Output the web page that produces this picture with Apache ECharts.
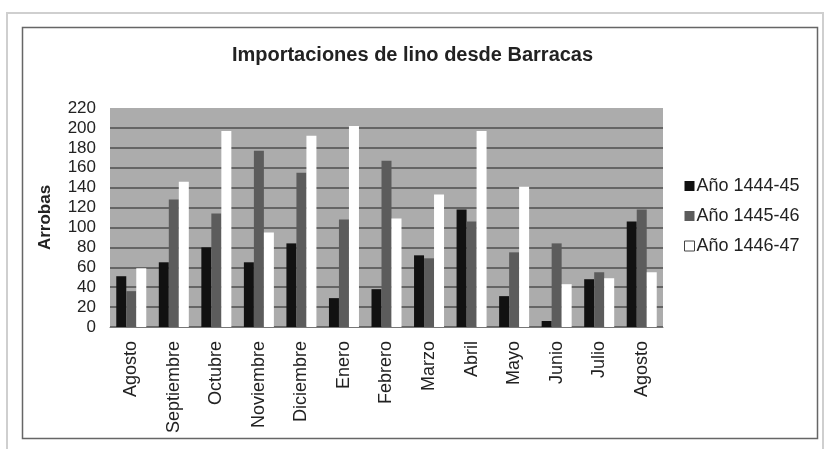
<!DOCTYPE html>
<html>
<head>
<meta charset="utf-8">
<script src="https://cdn.jsdelivr.net/npm/echarts@6/dist/echarts.min.js"></script>
<style>
html,body{margin:0;padding:0;background:#fff;}
#chart{width:825px;height:449px;}
</style>
</head>
<body>
<div id="chart"></div>
<script>
const categories = ['Agosto','Septiembre','Octubre','Noviembre','Diciembre','Enero','Febrero','Marzo','Abril','Mayo','Junio','Julio','Agosto'];
const seriesNames = ['Año 1444-45','Año 1445-46','Año 1446-47'];
const ano1444 = [51,65,80,65,84,29,38,72,118,31,6,48,106];
const ano1445 = [36,128,114,177,155,108,167,69,106,75,84,55,118];
const ano1446 = [59,146,197,95,192,202,109,133,197,141,43,49,55];
const yTicks = [0,20,40,60,80,100,120,140,160,180,200,220];

const FONT = 'Liberation Sans, Arial, sans-serif';
const chart = echarts.init(document.getElementById('chart'), null, {renderer:'canvas'});
const gridColors = yTicks.map((t,i)=> i===yTicks.length-1 ? 'rgba(0,0,0,0)' : '#4e4e4e');

chart.setOption({
  animation:false,
  backgroundColor:'#ffffff',
  title:{
    text:'Importaciones de lino desde Barracas',
    left:'center', top:40,
    textStyle:{fontFamily:FONT,fontSize:20,fontWeight:'bold',color:'#222'}
  },
  legend:{
    orient:'vertical', left:679, top:172,
    itemWidth:10, itemHeight:10, itemGap:12, icon:'rect',
    textStyle:{fontFamily:FONT,fontSize:18,color:'#222',padding:[0,0,0,-3]},
    data:[
      {name:seriesNames[0]},
      {name:seriesNames[1]},
      {name:seriesNames[2], itemStyle:{color:'#fff',borderColor:'#444',borderWidth:1}}
    ]
  },
  grid:{left:110,right:162,top:108,bottom:122,show:true,backgroundColor:'#acacac',borderWidth:0},
  xAxis:{
    type:'category', data:categories,
    axisLine:{show:true,lineStyle:{color:'#777',width:1}},
    axisTick:{show:false},
    axisLabel:{rotate:90,margin:14,fontFamily:FONT,fontSize:18,color:'#222',interval:0}
  },
  yAxis:{
    type:'value', min:0, max:220, interval:20,
    name:'Arrobas', nameLocation:'middle', nameRotate:90, nameGap:56,
    nameTextStyle:{fontFamily:FONT,fontSize:17,fontWeight:'bold',color:'#222'},
    axisLine:{show:false}, axisTick:{show:false},
    axisLabel:{margin:14,fontFamily:FONT,fontSize:17,color:'#222'},
    splitLine:{show:true,lineStyle:{color:gridColors,width:1.5}}
  },
  series:[
    {name:seriesNames[0],type:'bar',data:ano1444,barWidth:10,barGap:'0%',itemStyle:{color:'#111'}},
    {name:seriesNames[1],type:'bar',data:ano1445,barWidth:10,barGap:'0%',itemStyle:{color:'#5c5c5c'}},
    {name:seriesNames[2],type:'bar',data:ano1446,barWidth:10,barGap:'0%',itemStyle:{color:'#ffffff'}}
  ],
  graphic:[
    {type:'rect',shape:{x:7,y:13,width:816,height:445},style:{fill:'none',stroke:'#cfcfcf',lineWidth:2},silent:true},
    {type:'rect',shape:{x:22.5,y:27.5,width:795,height:411},style:{fill:'none',stroke:'#666',lineWidth:1.5},silent:true}
  ]
});
</script>
</body>
</html>
